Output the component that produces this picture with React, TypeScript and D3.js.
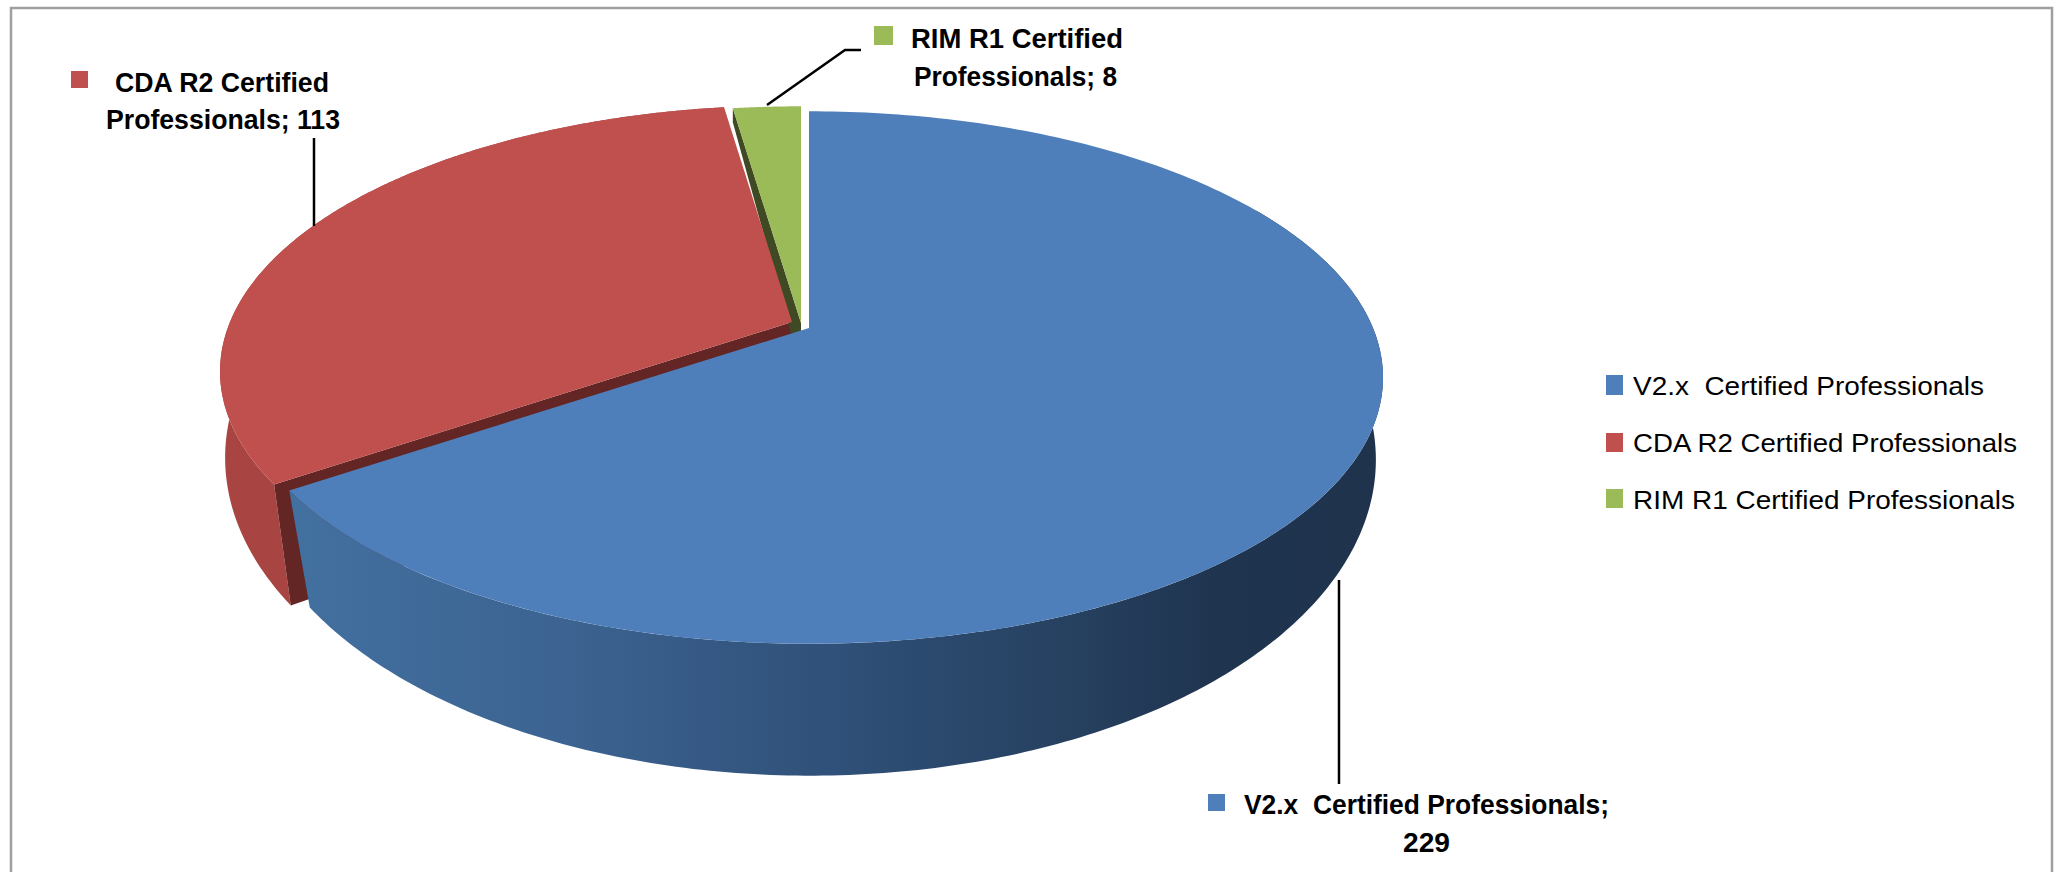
import React from "react";
import * as d3 from "d3";

const categories = ["V2.x  Certified Professionals", "CDA R2 Certified Professionals", "RIM R1 Certified Professionals"];
const values = [229, 113, 8];
const colors = ["#4e7fba", "#c0504d", "#9bbb59"];
const dataLabelLines = [
  ["V2.x  Certified Professionals;", "229"],
  ["CDA R2 Certified", "Professionals; 113"],
  ["RIM R1 Certified", "Professionals; 8"],
];

const W = 2060, H = 872;
const K = 0.186; // perspective strength
type Disc = { x: number; y: number; a: number; b: number; twist: number };
const blueTop: Disc = { x: 809, y: 328, a: 564, b: 257, twist: 0 };
const blueBot: Disc = { x: 810, y: 401, a: 556, b: 305, twist: -2.5 * Math.PI / 180 };
const redTop: Disc = { ...blueTop, x: 792, y: 322, a: 562 };
const redBot: Disc = { ...blueBot, x: 791, y: 399 };
const greenTop: Disc = { ...blueTop, x: 801, y: 323 };
const WALL_START = Math.PI / 3; // the wall is hidden behind the top face before this angle

const project = (d: Disc, t: number): [number, number] => {
  const u = Math.sin(t + d.twist), v = -Math.cos(t + d.twist), w = 1 - K * v;
  return [d.x + d.a * u / w, d.y + d.b * v / w];
};
const arcPts = (d: Disc, t0: number, t1: number): [number, number][] =>
  d3.range(0, 241).map((i) => project(d, t0 + (t1 - t0) * i / 240));
const line = d3.line().curve(d3.curveLinear);
const closed = (pts: [number, number][]) => line(pts) + "Z";

const slices = d3.pie<number>().sort(null)(values);
const [sb, sr, sg] = slices;

const wedge = (d: Disc, s: { startAngle: number; endAngle: number }) =>
  closed([[d.x, d.y], ...arcPts(d, s.startAngle, s.endAngle)]);

const blueWall = closed([...arcPts(blueTop, WALL_START, sb.endAngle), ...arcPts(blueBot, WALL_START, sb.endAngle).reverse()]);
const redWall = closed([...arcPts(redTop, sr.startAngle, sr.endAngle), ...arcPts(redBot, sr.startAngle, sr.endAngle).reverse()]);
const redCorner = project(redTop, sr.startAngle);
const redCornerBot = project(redBot, sr.startAngle);
const redRadial = closed([[redTop.x, redTop.y], redCorner, redCornerBot, [redBot.x + 8, redBot.y + 30]]);
const greenCorner = project(greenTop, sg.startAngle);
const greenRadial = closed([
  greenCorner,
  [greenTop.x, greenTop.y],
  [greenTop.x, greenTop.y + 14],
  [greenTop.x - 9, greenTop.y + 14],
  [greenCorner[0], greenCorner[1] + 14],
]);

const gradStops: [number, string][] = [
  [0, "#42709f"], [0.25, "#3c6391"], [0.5, "#2f5078"], [0.72, "#26405f"], [0.85, "#1f344f"], [1, "#1f334d"],
];

const font = "'Liberation Sans', Arial, sans-serif";

type T = { s: string; x: number; y: number; w: number };
const labelText: T[] = [
  { s: dataLabelLines[1][0], x: 115, y: 92, w: 214 },
  { s: dataLabelLines[1][1], x: 106, y: 129, w: 234 },
  { s: dataLabelLines[2][0], x: 911, y: 48, w: 212 },
  { s: dataLabelLines[2][1], x: 914, y: 86, w: 203 },
  { s: dataLabelLines[0][0], x: 1244, y: 814, w: 365 },
  { s: dataLabelLines[0][1], x: 1403, y: 852, w: 47 },
];
const labelSwatches: { c: number; x: number; y: number; w: number; h: number }[] = [
  { c: 1, x: 71, y: 71, w: 17, h: 17 },
  { c: 2, x: 874, y: 26, w: 19, h: 19 },
  { c: 0, x: 1208, y: 794, w: 17, h: 17 },
];
const legendRows = [
  { y0: 375, h: 20, base: 395, w: 351 },
  { y0: 433, h: 19, base: 452, w: 384 },
  { y0: 489, h: 19, base: 509, w: 382 },
];
const leaders: [number, number][][] = [
  [[314, 138], [314, 226]],
  [[767, 105], [845, 50], [861, 50]],
  [[1339, 580], [1339, 784]],
];

export default function App() {
  return (
    <svg width={W} height={H} viewBox={`0 0 ${W} ${H}`} style={{ position: "absolute", left: 0, top: 0, display: "block", background: "#fff" }}>
      <defs>
        <linearGradient id="blueWall" gradientUnits="userSpaceOnUse" x1={296} x2={1380} y1={0} y2={0}>
          {gradStops.map(([o, c]) => <stop key={o} offset={o} stopColor={c} />)}
        </linearGradient>
      </defs>
      <path d={`M11 ${H}V8H2052V${H}`} fill="none" stroke="#a0a0a0" strokeWidth={2.5} />

      <path d={redWall} fill="#a84542" />
      <path d={redRadial} fill="#632625" />
      <path d={greenRadial} fill="#3f4a24" />
      <path d={wedge(greenTop, sg)} fill={colors[2]} />
      <path d={wedge(redTop, sr)} fill={colors[1]} />
      <path d={blueWall} fill="url(#blueWall)" />
      <path d={wedge(blueTop, sb)} fill={colors[0]} />

      {leaders.map((l, i) => (
        <path key={i} d={line(l) as string} fill="none" stroke="#000" strokeWidth={2.5} />
      ))}

      {labelSwatches.map((s, i) => (
        <rect key={i} x={s.x} y={s.y} width={s.w} height={s.h} fill={colors[s.c]} />
      ))}
      {labelText.map((t, i) => (
        <text key={i} x={t.x} y={t.y} fontFamily={font} fontWeight={700} fontSize={27} textLength={t.w} lengthAdjust="spacingAndGlyphs" fill="#000" style={{ whiteSpace: "pre" }}>
          {t.s}
        </text>
      ))}

      {categories.map((c, i) => (
        <g key={c}>
          <rect x={1606} y={legendRows[i].y0} width={17} height={legendRows[i].h} fill={colors[i]} />
          <text x={1633} y={legendRows[i].base} fontFamily={font} fontSize={26} textLength={legendRows[i].w} lengthAdjust="spacingAndGlyphs" fill="#000" style={{ whiteSpace: "pre" }}>
            {c}
          </text>
        </g>
      ))}
    </svg>
  );
}
